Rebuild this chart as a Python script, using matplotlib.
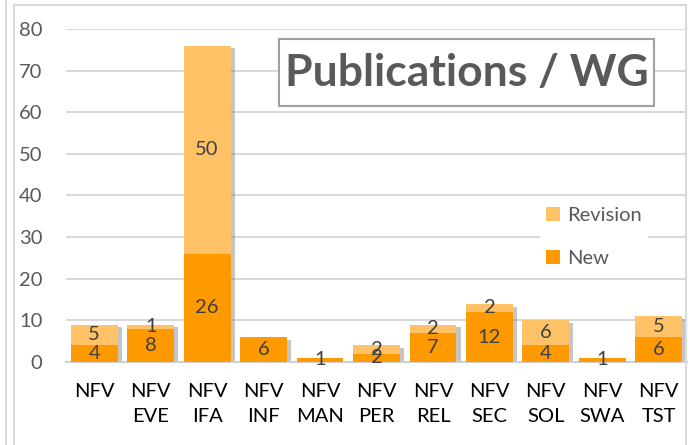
import numpy as np
import matplotlib.pyplot as plt
import matplotlib.patheffects as pe
from matplotlib.patches import Rectangle

# chart data
groups = ['NFV', 'NFV\nEVE', 'NFV\nIFA', 'NFV\nINF', 'NFV\nMAN', 'NFV\nPER',
          'NFV\nREL', 'NFV\nSEC', 'NFV\nSOL', 'NFV\nSWA', 'NFV\nTST']
new_pubs = [4, 8, 26, 6, 1, 2, 7, 12, 4, 1, 6]
revision_pubs = [5, 1, 50, 0, 0, 2, 2, 2, 6, 0, 5]
y_ticks = [0, 10, 20, 30, 40, 50, 60, 70, 80]

plt.rcParams['font.family'] = ['Lato', 'DejaVu Sans']
FS = 14.5

W, H = 693, 445
fig = plt.figure(figsize=(W / 100, H / 100), dpi=100)

# outer frame lines (as in the pasted screenshot)
fig.add_artist(plt.Line2D([6 / W, 6 / W], [0, 1], color='#d9d9d9', lw=1.5))
fig.add_artist(Rectangle((14 / W, -0.1), (686 - 14) / W, 1.1 - 5 / H,
                         transform=fig.transFigure, fill=False,
                         edgecolor='#d9d9d9', lw=1.5))

ax = fig.add_axes([66 / W, 1 - 362 / H, (687 - 66) / W, (362 - 29) / H])

x = np.arange(len(groups))
totals = np.array(new_pubs) + np.array(revision_pubs)

# shadow behind the whole stack
shadow_bars = ax.bar(x, totals, width=0.83, color='white', zorder=2)
for b in shadow_bars:
    b.set_path_effects([pe.SimplePatchShadow(offset=(3, -2), shadow_rgbFace='#808080',
                                             alpha=0.45)])

bars_new = ax.bar(x, new_pubs, width=0.83, color='#ff9900', label='New', zorder=3)
bars_rev = ax.bar(x, revision_pubs, width=0.83, bottom=new_pubs, color='#ffc266',
                  label='Revision', zorder=3)

# data labels in the middle of each segment
for i in range(len(groups)):
    ax.text(x[i], new_pubs[i] / 2, str(new_pubs[i]), ha='center', va='center',
            fontsize=FS, color='#404040', zorder=5)
    if revision_pubs[i] > 0:
        ax.text(x[i], new_pubs[i] + revision_pubs[i] / 2, str(revision_pubs[i]),
                ha='center', va='center', fontsize=FS, color='#404040', zorder=5)

ax.set_xlim(-0.5, len(groups) - 0.5)
ax.set_ylim(0, 80)
ax.set_yticks(y_ticks)
ax.set_xticks(x)
ax.set_xticklabels(groups, fontsize=FS, color='#000000', linespacing=1.55)
ax.tick_params(axis='y', length=0, pad=17, labelsize=FS, labelcolor='#595959')
ax.tick_params(axis='x', length=0, pad=15)
ax.yaxis.grid(True, color='#d9d9d9', lw=1.5, zorder=0)
for s in ['top', 'right', 'left']:
    ax.spines[s].set_visible(False)
ax.spines['bottom'].set_color('#d0d0d0')
ax.spines['bottom'].set_linewidth(1.5)
ax.spines['bottom'].set_zorder(2.5)

# title in a box
fig.add_artist(Rectangle((279 / W, 1 - 106 / H), (654 - 279) / W, (106 - 39) / H,
                         transform=fig.transFigure, facecolor='white',
                         edgecolor='#a0a0a0', lw=1.5, zorder=10))
fig.text(467 / W, 1 - 73 / H, 'Publications / WG', ha='center', va='center',
         fontsize=32, fontweight='bold', color='#595959', zorder=11)

# legend
leg = ax.legend([bars_rev, bars_new], ['Revision', 'New'], loc='upper left',
                bbox_to_anchor=(540 / W, 1 - 201 / H), bbox_transform=fig.transFigure,
                fontsize=FS, frameon=True, facecolor='white', edgecolor='none',
                fancybox=False, framealpha=1, handlelength=0.7, handleheight=0.7,
                handletextpad=0.35, labelspacing=1.3, borderpad=0.3, borderaxespad=0)
for t in leg.get_texts():
    t.set_color('#595959')
leg.set_zorder(10)
# wider white area behind the legend (gridlines are hidden there)
ax.add_patch(Rectangle((518 / W, 1 - 278 / H), (670 - 518) / W, (278 - 196) / H,
                       transform=fig.transFigure, facecolor='white', edgecolor='none',
                       zorder=1))

fig.savefig('out.png', dpi=100)
